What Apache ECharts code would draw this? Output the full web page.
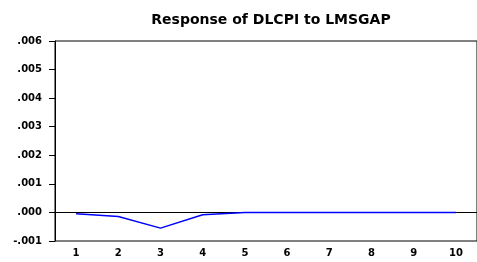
<!DOCTYPE html>
<html>
<head>
<meta charset="utf-8">
<script src="https://cdn.jsdelivr.net/npm/echarts@6/dist/echarts.min.js"></script>
<style>
  html, body { margin: 0; padding: 0; background: #fff; }
  #chart { width: 477px; height: 262px; }
</style>
</head>
<body>
<div id="chart"></div>
<script>
// periods after the shock
const periods = ['1', '2', '3', '4', '5', '6', '7', '8', '9', '10'];
// response of DLCPI to a LMSGAP shock
const response = [-0.00005, -0.00014, -0.00055, -0.00008, 0, 0, 0, 0, 0, 0];

// EViews style labels: .006, -.001
function fmt(v) {
  let s = Math.abs(v).toFixed(3).replace(/^0/, '');
  return (v < 0 ? '-' : '') + s;
}

const labelFont = { fontSize: 10, fontWeight: 'bold', fontFamily: 'DejaVu Sans', color: '#000' };

let myChart = echarts.init(document.getElementById('chart'));
let option = {
  animation: false,
  title: {
    text: 'Response of DLCPI to LMSGAP',
    left: 266,
    textAlign: 'center',
    top: 8,
    textStyle: { fontSize: 14, fontWeight: 'bold', fontFamily: 'DejaVu Sans', color: '#000' }
  },
  grid: {
    left: 55, right: -3, top: 41, bottom: 21,
    show: true, borderColor: '#000', borderWidth: 1
  },
  xAxis: {
    type: 'category',
    data: periods,
    boundaryGap: true,
    axisLine: { lineStyle: { color: '#000', width: 1 } },
    axisTick: { length: 5, lineStyle: { color: '#000' } },
    axisLabel: Object.assign({ margin: 7 }, labelFont),
    splitLine: { show: false }
  },
  yAxis: {
    type: 'value',
    min: -0.001, max: 0.006, interval: 0.001,
    axisLine: { show: true, lineStyle: { color: '#000', width: 1 } },
    axisTick: { show: true, length: 6, lineStyle: { color: '#000' } },
    axisLabel: Object.assign({ margin: 13, formatter: fmt }, labelFont),
    splitLine: { show: false }
  },
  series: [{
    // zero line, drawn under the response
    type: 'line',
    data: [],
    z: 1,
    markLine: {
      silent: true,
      symbol: 'none',
      label: { show: false },
      lineStyle: { color: '#000', width: 1, type: 'solid' },
      data: [{ yAxis: 0 }]
    }
  }, {
    type: 'line',
    data: response,
    symbol: 'none',
    lineStyle: { color: '#0000ff', width: 1.5 },
    z: 5
  }]
};
myChart.setOption(option);
</script>
</body>
</html>
